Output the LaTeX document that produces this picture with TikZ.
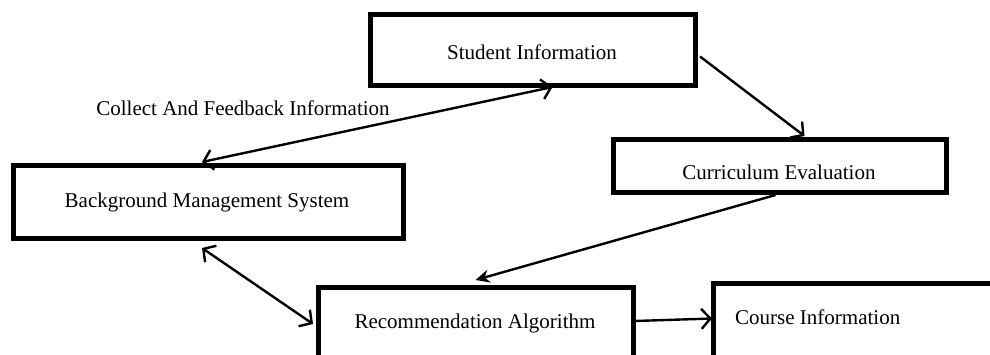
\documentclass[tikz,border=0pt]{standalone}
\usepackage{fontspec}
\setmainfont{Liberation Serif}
\usetikzlibrary{arrows.meta,calc}
\begin{document}
\begin{tikzpicture}[x=1pt,y=-1pt,
  box/.style={draw=black,line width=5pt,minimum width=#1,inner sep=0pt,outer sep=0pt},
  lbl/.style={font=\fontsize{21}{25}\selectfont,inner sep=0pt},
  conn/.style={draw=black,line width=2.4pt},
  barb/.style={Straight Barb[length=9pt,width=20pt,line width=2.4pt]},
  stl/.style={Stealth[length=14pt,width=13pt]}
]
\useasboundingbox (0,0) rectangle (990,354);
\clip (0,0) rectangle (990,354);
\fill[white] (0,0) rectangle (990,354);
% boxes
\node[box=325pt,minimum height=71pt] (si) at (532.5,49.5) {};
\node[box=333pt,minimum height=53pt] (ce) at (779.5,165.5) {};
\node[box=390pt,minimum height=73pt] (bm) at (208,201.5) {};
\node[box=315pt,minimum height=90pt] (ra) at (475.5,332) {};
\node[box=290pt,minimum height=97pt] (cinfo) at (858,331.5) {};
% texts
\node[lbl] (tsi) at (532,52) {Student Information};
\node[lbl] (tce) at (779,172) {Curriculum Evaluation};
\node[lbl] (tbm) at (207,202) {Background Management System};
\node[lbl] (tra) at (475,323) {Recommendation Algorithm};
\node[lbl,anchor=west] (tci) at (735,317) {Course Information};
\node[lbl] (tlab) at (243,108) {Collect And Feedback Information};
% connectors
\draw[conn,{Straight Barb[length=9pt,width=20pt]}-{Straight Barb[length=9pt,width=20pt]}]
  ([xshift=-6pt,yshift=3pt]bm.north) -- ([xshift=20pt,yshift=-2pt]si.south);
\draw[conn,-{Straight Barb[length=9pt,width=20pt]}]
  ([xshift=5pt,yshift=-7pt]si.east) -- ([xshift=25pt,yshift=3pt]ce.north);
\draw[conn,-{Stealth[length=14pt,width=13pt]}]
  ([xshift=-4pt,yshift=-3pt]ce.south) -- ([xshift=0pt,yshift=7pt]ra.north);
\draw[conn,{Straight Barb[length=9pt,width=20pt]}-{Straight Barb[length=9pt,width=20pt]}]
  ([xshift=-6pt,yshift=-10pt]bm.south) -- ([xshift=-5pt,yshift=8pt]ra.west);
\draw[conn,-{Straight Barb[length=9pt,width=20pt]}]
  ([xshift=2pt,yshift=11pt]ra.east) -- ([xshift=-1pt,yshift=13pt]cinfo.west);
\end{tikzpicture}
\end{document}
